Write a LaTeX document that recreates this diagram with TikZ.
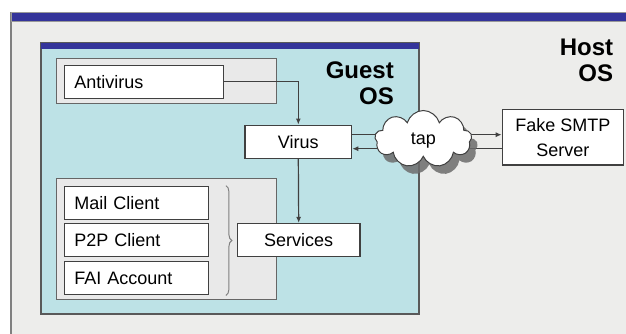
\documentclass[tikz,border=0pt]{standalone}
\usepackage{fontspec}
\setmainfont{Liberation Sans}
\usetikzlibrary{arrows.meta,shapes.symbols,shadows,calc,decorations.pathreplacing}
\definecolor{hostfill}{HTML}{EDEDEB}
\definecolor{guestfill}{HTML}{BDE2E6}
\definecolor{barblue}{HTML}{34349A}
\definecolor{groupfill}{HTML}{E9E9E9}
\definecolor{edge}{HTML}{404040}
\pgfdeclarelayer{bg}
\pgfdeclarelayer{lines}
\pgfsetlayers{bg,lines,main}
\begin{document}
\begin{tikzpicture}[x=1pt,y=-1pt,
  box/.style={draw=edge, fill=white, line width=1.2pt, minimum height=33pt, inner sep=0pt,
    font=\fontsize{18}{25}\selectfont},
  lbox/.style={box, text width=#1, align=left, inner xsep=10pt},
  group/.style={draw=edge!80, fill=groupfill, line width=1.1pt},
  conn/.style={draw=edge, line width=1.2pt},
  arr/.style={conn, -{Latex[length=6pt,width=5pt]}},
  oslabel/.style={font=\fontsize{24}{26}\selectfont\bfseries, align=right, inner sep=0pt, anchor=north east}
]
\useasboundingbox (0,0) rectangle (626,333);
\clip (0,0) rectangle (626,333);

\begin{pgfonlayer}{bg}
  % host
  \fill[white] (0,0) rectangle (626,333);
  \fill[hostfill] (11,12.5) rectangle (640,345);
  \draw[gray, line width=1.2pt] (11,345) -- (11,12.5) -- (640,12.5);
  \filldraw[fill=barblue, draw=gray!80, line width=0.6pt] (11,12.5) rectangle (640,21);
  % guest
  \filldraw[fill=guestfill, draw=gray!70!black, line width=1.1pt] (41,42.7) rectangle (419,314);
  \fill[barblue] (41,42.7) rectangle (419,49.3);
  % groups
  \draw[group] (56.7,58.3) rectangle (276.7,103.3);
  \draw[group] (56.7,178.3) rectangle (276.7,299.3);
\end{pgfonlayer}

\node[oslabel] (hostlbl) at (613.3,39) {Host\\OS};
\node[oslabel] (guestlbl) at (394,61.5) {Guest\\OS};

\node[lbox=139pt] (av) at (143.8,81.7) {Antivirus};
\node[lbox=124pt] (mail) at (136.3,202.7) {Mail Client};
\node[lbox=124pt] (p2p) at (136.3,240.3) {P2P Client};
\node[lbox=124pt] (fai) at (136.3,278.3) {FAI Account};
\node[box, minimum width=106.7pt] (virus) at (298.3,141.7) {Virus};
\node[box, minimum width=122.7pt] (serv) at (298.7,240) {Services};
\node[box, minimum width=121pt, minimum height=55.7pt, align=center] (smtp) at (562.8,137.2) {Fake SMTP\\Server};
\node[cloud, cloud puffs=9, draw=edge, fill=white, line width=1pt,
      minimum width=97pt, minimum height=57pt, inner sep=0pt, text depth=0pt,
      font=\fontsize{18}{20}\selectfont,
      drop shadow={shadow xshift=6pt, shadow yshift=-8pt, fill=gray!85!black, opacity=0.85}]
      (tap) at (423.3,139) {tap};

\draw[decorate, decoration={brace, amplitude=6pt}, draw=gray, line width=1pt]
  ($(mail.north east)+(17,0)$) -- ($(fai.south east)+(17,0)$);

\begin{pgfonlayer}{lines}
  \coordinate (hi) at ($(virus.east)+(0,-7)$);
  \coordinate (lo) at ($(virus.east)+(0,7)$);
  \draw[arr] (av.east) -| (virus.north);
  \draw[arr] (virus.south) -- (serv.north);
  \draw[conn] (hi) -- (tap.center |- hi);
  \draw[arr] (tap.center |- lo) -- (lo);
  \draw[arr] (tap.center |- hi) -- (smtp.west |- hi);
  \draw[conn] (tap.center |- lo) -- (smtp.west |- lo);
\end{pgfonlayer}
\end{tikzpicture}
\end{document}
